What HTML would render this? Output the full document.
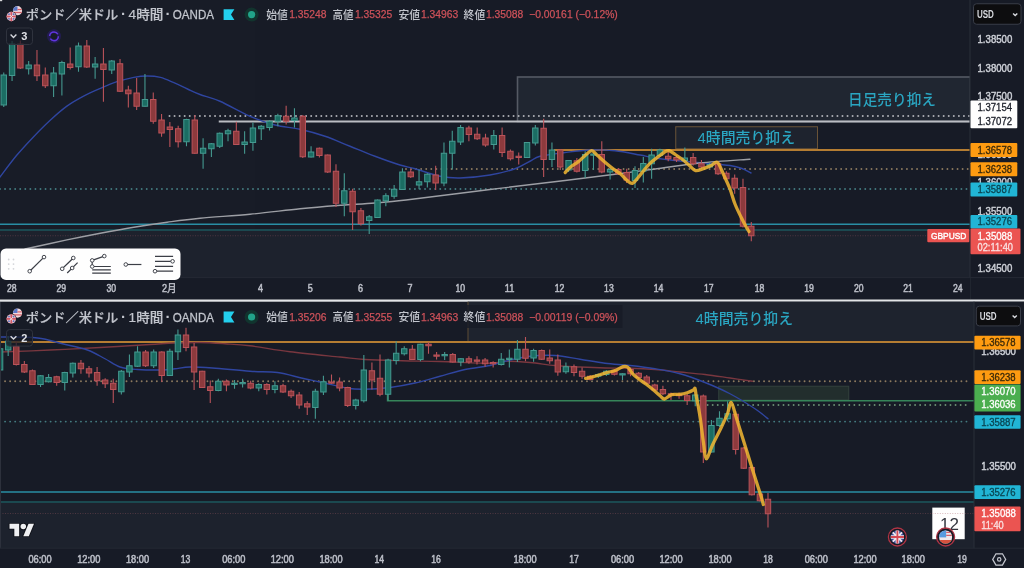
<!DOCTYPE html>
<html lang="ja"><head><meta charset="utf-8"><title>GBPUSD</title>
<style>html,body{margin:0;padding:0;background:#181c27;}svg{display:block;will-change:transform;opacity:0.9999}text{font-family:"Liberation Sans","Noto Sans CJK JP",sans-serif;}</style>
</head><body>
<svg width="1024" height="568" viewBox="0 0 1024 568">
<rect width="1024" height="568" fill="#181c27"/>
<rect x="0" y="0" width="2.2" height="1.2" fill="#d8d9dc"/>
<g id="top">
<rect x="0" y="230" width="970" height="47.5" fill="#1e232e"/>
<rect x="517.5" y="77" width="453" height="44.5" fill="#212732" stroke="#565b65" stroke-width="1.6"/>
<rect x="675.75" y="126.75" width="141.75" height="22" fill="#1f242f" stroke="#6b5438" stroke-width="1"/>
<line x1="169.5" y1="116" x2="970" y2="116" stroke="#c6c7cc" stroke-width="2" stroke-dasharray="0.01 5.05" stroke-linecap="round" opacity="0.85"/>
<line x1="218.75" y1="121.5" x2="970" y2="121.5" stroke="#bcbec4" stroke-width="1.8"/>
<line x1="553.75" y1="150" x2="970" y2="150" stroke="#b67e33" stroke-width="1.8"/>
<line x1="406" y1="169" x2="970" y2="169" stroke="#9a8566" stroke-width="1.9" stroke-dasharray="0.01 5.05" stroke-linecap="round" opacity="0.9"/>
<line x1="0" y1="189" x2="970" y2="189" stroke="#4a878b" stroke-width="1.9" stroke-dasharray="0.01 5.05" stroke-linecap="round" opacity="0.9"/>
<line x1="0" y1="224.25" x2="970" y2="224.25" stroke="#2a8fa6" stroke-width="1.7"/>
<line x1="0" y1="230" x2="970" y2="230" stroke="#1c4a51" stroke-width="2.2"/>
<line x1="0" y1="235.75" x2="970" y2="235.75" stroke="#5e3e48" stroke-width="1" stroke-dasharray="1 1.5" opacity="0.75"/>
<path d="M0,177 C2.78,173.38 11.13,161.98 16.7,155.3 C22.27,148.62 27.82,142.75 33.4,136.9 C38.98,131.05 44.62,125.33 50.2,120.2 C55.78,115.07 61.33,110.12 66.9,106.1 C72.47,102.08 78.03,99.05 83.6,96.1 C89.17,93.15 94.73,90.80 100.3,88.4 C105.87,86.00 111.42,83.53 117,81.7 C122.58,79.87 128.77,78.35 133.8,77.4 C138.83,76.45 142.75,76.00 147.2,76 C151.65,76.00 156.05,76.28 160.5,77.4 C164.95,78.52 169.40,80.77 173.9,82.7 C178.40,84.63 183.15,87.03 187.5,89 C191.85,90.97 194.58,92.46 200,94.5 C205.42,96.54 211.67,97.62 220,101.25 C228.33,104.88 240.83,112.29 250,116.25 C259.17,120.21 266.67,122.83 275,125 C283.33,127.17 291.67,127.38 300,129.25 C308.33,131.12 316.67,133.42 325,136.25 C333.33,139.08 341.67,142.92 350,146.25 C358.33,149.58 366.67,153.12 375,156.25 C383.33,159.38 393.33,162.92 400,165 C406.67,167.08 408.33,166.88 415,168.75 C421.67,170.62 432.50,174.71 440,176.25 C447.50,177.79 451.67,178.21 460,178 C468.33,177.79 480.83,176.54 490,175 C499.17,173.46 508.33,171.04 515,168.75 C521.67,166.46 525.83,163.33 530,161.25 C534.17,159.17 534.17,157.71 540,156.25 C545.83,154.79 556.67,153.54 565,152.5 C573.33,151.46 581.67,150.29 590,150 C598.33,149.71 606.67,149.92 615,150.75 C623.33,151.58 633.33,153.79 640,155 C646.67,156.21 648.33,157.00 655,158 C661.67,159.00 671.67,160.17 680,161 C688.33,161.83 696.67,162.25 705,163 C713.33,163.75 723.83,164.58 730,165.5 C736.17,166.42 738.50,167.25 742,168.5 C745.50,169.75 749.50,172.25 751,173" fill="none" stroke="#3046a0" stroke-width="1.4" stroke-linecap="round" stroke-linejoin="round" opacity="1"/>
<path d="M25,249 C31.98,247.48 54.35,242.53 66.9,239.9 C79.45,237.27 89.15,235.32 100.3,233.2 C111.45,231.08 122.65,229.03 133.8,227.2 C144.95,225.37 156.17,223.70 167.2,222.2 C178.23,220.70 186.20,219.52 200,218.2 C213.80,216.88 233.33,215.82 250,214.25 C266.67,212.68 285.42,210.21 300,208.75 C314.58,207.29 325.00,206.46 337.5,205.5 C350.00,204.54 363.58,203.92 375,203 C386.42,202.08 386.83,202.25 406,200 C425.17,197.75 463.50,192.75 490,189.5 C516.50,186.25 544.17,183.04 565,180.5 C585.83,177.96 600.67,176.08 615,174.25 C629.33,172.42 636.83,171.38 651,169.5 C665.17,167.62 683.50,164.71 700,163 C716.50,161.29 741.67,159.88 750,159.25" fill="none" stroke="#9ea0a6" stroke-width="1.4" stroke-linecap="round" stroke-linejoin="round" opacity="1"/>
<line x1="3.75" y1="72.5" x2="3.75" y2="107.0" stroke="#469a91" stroke-width="1.1"/>
<rect x="1.05" y="75.0" width="5.4" height="30.00" fill="#1c6e64" stroke="#469a91" stroke-width="1"/>
<line x1="12.06" y1="41.0" x2="12.06" y2="81.0" stroke="#469a91" stroke-width="1.1"/>
<rect x="9.36" y="44.0" width="5.4" height="31.50" fill="#1c6e64" stroke="#469a91" stroke-width="1"/>
<line x1="20.36" y1="40.5" x2="20.36" y2="69.0" stroke="#bb545b" stroke-width="1.1"/>
<rect x="17.66" y="44.0" width="5.4" height="24.00" fill="#8e3b3e" stroke="#bb545b" stroke-width="1"/>
<line x1="28.67" y1="61.0" x2="28.67" y2="74.5" stroke="#469a91" stroke-width="1.1"/>
<rect x="25.97" y="65.0" width="5.4" height="3.75" fill="#1c6e64" stroke="#469a91" stroke-width="1"/>
<line x1="36.97" y1="50.0" x2="36.97" y2="81.0" stroke="#bb545b" stroke-width="1.1"/>
<rect x="34.27" y="65.0" width="5.4" height="10.75" fill="#8e3b3e" stroke="#bb545b" stroke-width="1"/>
<line x1="45.28" y1="67.5" x2="45.28" y2="88.0" stroke="#bb545b" stroke-width="1.1"/>
<rect x="42.58" y="75.0" width="5.4" height="10.75" fill="#8e3b3e" stroke="#bb545b" stroke-width="1"/>
<line x1="53.59" y1="67.0" x2="53.59" y2="97.0" stroke="#469a91" stroke-width="1.1"/>
<rect x="50.89" y="73.0" width="5.4" height="12.75" fill="#1c6e64" stroke="#469a91" stroke-width="1"/>
<line x1="61.89" y1="60.75" x2="61.89" y2="95.5" stroke="#469a91" stroke-width="1.1"/>
<rect x="59.19" y="62.5" width="5.4" height="11.50" fill="#1c6e64" stroke="#469a91" stroke-width="1"/>
<line x1="70.20" y1="47.5" x2="70.20" y2="69.5" stroke="#bb545b" stroke-width="1.1"/>
<rect x="67.50" y="64.0" width="5.4" height="3.50" fill="#8e3b3e" stroke="#bb545b" stroke-width="1"/>
<line x1="78.50" y1="42.5" x2="78.50" y2="71.75" stroke="#469a91" stroke-width="1.1"/>
<rect x="75.80" y="46.0" width="5.4" height="20.75" fill="#1c6e64" stroke="#469a91" stroke-width="1"/>
<line x1="86.81" y1="40.0" x2="86.81" y2="68.0" stroke="#bb545b" stroke-width="1.1"/>
<rect x="84.11" y="46.0" width="5.4" height="21.00" fill="#8e3b3e" stroke="#bb545b" stroke-width="1"/>
<line x1="95.12" y1="57.0" x2="95.12" y2="78.75" stroke="#469a91" stroke-width="1.1"/>
<rect x="92.42" y="64.0" width="5.4" height="3.00" fill="#1c6e64" stroke="#469a91" stroke-width="1"/>
<line x1="103.42" y1="48.0" x2="103.42" y2="101.75" stroke="#bb545b" stroke-width="1.1"/>
<rect x="100.72" y="64.0" width="5.4" height="5.50" fill="#8e3b3e" stroke="#bb545b" stroke-width="1"/>
<line x1="111.73" y1="60.0" x2="111.73" y2="74.0" stroke="#469a91" stroke-width="1.1"/>
<rect x="109.03" y="61.0" width="5.4" height="9.00" fill="#1c6e64" stroke="#469a91" stroke-width="1"/>
<line x1="120.03" y1="59.0" x2="120.03" y2="92.0" stroke="#bb545b" stroke-width="1.1"/>
<rect x="117.33" y="63.75" width="5.4" height="27.50" fill="#8e3b3e" stroke="#bb545b" stroke-width="1"/>
<line x1="128.34" y1="85.75" x2="128.34" y2="107.5" stroke="#bb545b" stroke-width="1.1"/>
<rect x="125.64" y="90.0" width="5.4" height="3.75" fill="#8e3b3e" stroke="#bb545b" stroke-width="1"/>
<line x1="136.65" y1="78.0" x2="136.65" y2="110.0" stroke="#bb545b" stroke-width="1.1"/>
<rect x="133.95" y="93.0" width="5.4" height="13.25" fill="#8e3b3e" stroke="#bb545b" stroke-width="1"/>
<line x1="144.95" y1="74.0" x2="144.95" y2="106.5" stroke="#469a91" stroke-width="1.1"/>
<rect x="142.25" y="99.5" width="5.4" height="6.75" fill="#1c6e64" stroke="#469a91" stroke-width="1"/>
<line x1="153.26" y1="92.5" x2="153.26" y2="123.75" stroke="#bb545b" stroke-width="1.1"/>
<rect x="150.56" y="99.5" width="5.4" height="21.75" fill="#8e3b3e" stroke="#bb545b" stroke-width="1"/>
<line x1="161.56" y1="114.0" x2="161.56" y2="136.75" stroke="#bb545b" stroke-width="1.1"/>
<rect x="158.86" y="120.0" width="5.4" height="13.00" fill="#8e3b3e" stroke="#bb545b" stroke-width="1"/>
<line x1="169.87" y1="122.0" x2="169.87" y2="147.0" stroke="#bb545b" stroke-width="1.1"/>
<rect x="167.17" y="127.0" width="5.4" height="2.50" fill="#8e3b3e" stroke="#bb545b" stroke-width="1"/>
<line x1="178.18" y1="125.75" x2="178.18" y2="147.5" stroke="#bb545b" stroke-width="1.1"/>
<rect x="175.48" y="128.75" width="5.4" height="13.00" fill="#8e3b3e" stroke="#bb545b" stroke-width="1"/>
<line x1="186.48" y1="118.75" x2="186.48" y2="146.25" stroke="#469a91" stroke-width="1.1"/>
<rect x="183.78" y="119.5" width="5.4" height="22.25" fill="#1c6e64" stroke="#469a91" stroke-width="1"/>
<line x1="194.79" y1="115.0" x2="194.79" y2="153.75" stroke="#bb545b" stroke-width="1.1"/>
<rect x="192.09" y="120.0" width="5.4" height="33.25" fill="#8e3b3e" stroke="#bb545b" stroke-width="1"/>
<line x1="203.09" y1="138.25" x2="203.09" y2="168.75" stroke="#469a91" stroke-width="1.1"/>
<rect x="200.39" y="148.25" width="5.4" height="5.00" fill="#1c6e64" stroke="#469a91" stroke-width="1"/>
<line x1="211.40" y1="143.0" x2="211.40" y2="157.0" stroke="#469a91" stroke-width="1.1"/>
<rect x="208.70" y="143.75" width="5.4" height="5.00" fill="#1c6e64" stroke="#469a91" stroke-width="1"/>
<line x1="219.71" y1="132.5" x2="219.71" y2="148.0" stroke="#469a91" stroke-width="1.1"/>
<rect x="217.01" y="133.25" width="5.4" height="13.00" fill="#1c6e64" stroke="#469a91" stroke-width="1"/>
<line x1="228.01" y1="128.75" x2="228.01" y2="141.25" stroke="#469a91" stroke-width="1.1"/>
<rect x="225.31" y="130.75" width="5.4" height="3.00" fill="#1c6e64" stroke="#469a91" stroke-width="1"/>
<line x1="236.32" y1="121.75" x2="236.32" y2="145.0" stroke="#bb545b" stroke-width="1.1"/>
<rect x="233.62" y="131.25" width="5.4" height="13.25" fill="#8e3b3e" stroke="#bb545b" stroke-width="1"/>
<line x1="244.62" y1="131.25" x2="244.62" y2="153.75" stroke="#469a91" stroke-width="1.1"/>
<rect x="241.92" y="142.0" width="5.4" height="2.50" fill="#1c6e64" stroke="#469a91" stroke-width="1"/>
<line x1="252.93" y1="122.5" x2="252.93" y2="150.75" stroke="#469a91" stroke-width="1.1"/>
<rect x="250.23" y="128.0" width="5.4" height="14.50" fill="#1c6e64" stroke="#469a91" stroke-width="1"/>
<line x1="261.24" y1="125.0" x2="261.24" y2="140.0" stroke="#469a91" stroke-width="1.1"/>
<rect x="258.54" y="126.25" width="5.4" height="2.50" fill="#1c6e64" stroke="#469a91" stroke-width="1"/>
<line x1="269.54" y1="120.0" x2="269.54" y2="130.5" stroke="#469a91" stroke-width="1.1"/>
<rect x="266.84" y="121.25" width="5.4" height="6.25" fill="#1c6e64" stroke="#469a91" stroke-width="1"/>
<line x1="277.85" y1="113.75" x2="277.85" y2="126.25" stroke="#469a91" stroke-width="1.1"/>
<rect x="275.15" y="115.75" width="5.4" height="5.50" fill="#1c6e64" stroke="#469a91" stroke-width="1"/>
<line x1="286.15" y1="105.75" x2="286.15" y2="124.5" stroke="#bb545b" stroke-width="1.1"/>
<rect x="283.45" y="116.25" width="5.4" height="5.00" fill="#8e3b3e" stroke="#bb545b" stroke-width="1"/>
<line x1="294.46" y1="108.25" x2="294.46" y2="127.5" stroke="#469a91" stroke-width="1.1"/>
<rect x="291.76" y="118.0" width="5.4" height="2.50" fill="#1c6e64" stroke="#469a91" stroke-width="1"/>
<line x1="302.77" y1="115.0" x2="302.77" y2="158.0" stroke="#bb545b" stroke-width="1.1"/>
<rect x="300.07" y="116.25" width="5.4" height="40.50" fill="#8e3b3e" stroke="#bb545b" stroke-width="1"/>
<line x1="311.07" y1="146.25" x2="311.07" y2="157.5" stroke="#469a91" stroke-width="1.1"/>
<rect x="308.37" y="152.0" width="5.4" height="5.00" fill="#1c6e64" stroke="#469a91" stroke-width="1"/>
<line x1="319.38" y1="147.5" x2="319.38" y2="157.5" stroke="#bb545b" stroke-width="1.1"/>
<rect x="316.68" y="148.25" width="5.4" height="7.25" fill="#8e3b3e" stroke="#bb545b" stroke-width="1"/>
<line x1="327.68" y1="154.5" x2="327.68" y2="173.0" stroke="#bb545b" stroke-width="1.1"/>
<rect x="324.98" y="155.0" width="5.4" height="17.00" fill="#8e3b3e" stroke="#bb545b" stroke-width="1"/>
<line x1="335.99" y1="164.25" x2="335.99" y2="207.0" stroke="#bb545b" stroke-width="1.1"/>
<rect x="333.29" y="171.25" width="5.4" height="32.00" fill="#8e3b3e" stroke="#bb545b" stroke-width="1"/>
<line x1="344.30" y1="173.25" x2="344.30" y2="216.25" stroke="#469a91" stroke-width="1.1"/>
<rect x="341.60" y="190.75" width="5.4" height="12.50" fill="#1c6e64" stroke="#469a91" stroke-width="1"/>
<line x1="352.60" y1="188.75" x2="352.60" y2="230.0" stroke="#bb545b" stroke-width="1.1"/>
<rect x="349.90" y="191.25" width="5.4" height="20.50" fill="#8e3b3e" stroke="#bb545b" stroke-width="1"/>
<line x1="360.91" y1="208.0" x2="360.91" y2="225.5" stroke="#bb545b" stroke-width="1.1"/>
<rect x="358.21" y="210.75" width="5.4" height="13.00" fill="#8e3b3e" stroke="#bb545b" stroke-width="1"/>
<line x1="369.21" y1="215.0" x2="369.21" y2="234.0" stroke="#469a91" stroke-width="1.1"/>
<rect x="366.51" y="216.75" width="5.4" height="3.75" fill="#1c6e64" stroke="#469a91" stroke-width="1"/>
<line x1="377.52" y1="199.5" x2="377.52" y2="218.0" stroke="#469a91" stroke-width="1.1"/>
<rect x="374.82" y="200.0" width="5.4" height="17.50" fill="#1c6e64" stroke="#469a91" stroke-width="1"/>
<line x1="385.83" y1="193.25" x2="385.83" y2="206.25" stroke="#469a91" stroke-width="1.1"/>
<rect x="383.13" y="195.75" width="5.4" height="5.00" fill="#1c6e64" stroke="#469a91" stroke-width="1"/>
<line x1="394.13" y1="185.0" x2="394.13" y2="198.75" stroke="#469a91" stroke-width="1.1"/>
<rect x="391.43" y="189.25" width="5.4" height="7.00" fill="#1c6e64" stroke="#469a91" stroke-width="1"/>
<line x1="402.44" y1="168.25" x2="402.44" y2="190.0" stroke="#469a91" stroke-width="1.1"/>
<rect x="399.74" y="172.0" width="5.4" height="17.50" fill="#1c6e64" stroke="#469a91" stroke-width="1"/>
<line x1="410.74" y1="168.75" x2="410.74" y2="178.0" stroke="#bb545b" stroke-width="1.1"/>
<rect x="408.04" y="172.0" width="5.4" height="4.75" fill="#8e3b3e" stroke="#bb545b" stroke-width="1"/>
<line x1="419.05" y1="169.5" x2="419.05" y2="189.25" stroke="#469a91" stroke-width="1.1"/>
<rect x="416.35" y="181.75" width="5.4" height="3.25" fill="#1c6e64" stroke="#469a91" stroke-width="1"/>
<line x1="427.36" y1="173.25" x2="427.36" y2="187.5" stroke="#469a91" stroke-width="1.1"/>
<rect x="424.66" y="174.25" width="5.4" height="7.50" fill="#1c6e64" stroke="#469a91" stroke-width="1"/>
<line x1="435.66" y1="165.75" x2="435.66" y2="190.0" stroke="#bb545b" stroke-width="1.1"/>
<rect x="432.96" y="175.0" width="5.4" height="8.00" fill="#8e3b3e" stroke="#bb545b" stroke-width="1"/>
<line x1="443.97" y1="142.5" x2="443.97" y2="186.25" stroke="#469a91" stroke-width="1.1"/>
<rect x="441.27" y="153.25" width="5.4" height="29.75" fill="#1c6e64" stroke="#469a91" stroke-width="1"/>
<line x1="452.27" y1="130.75" x2="452.27" y2="169.5" stroke="#469a91" stroke-width="1.1"/>
<rect x="449.57" y="141.25" width="5.4" height="12.00" fill="#1c6e64" stroke="#469a91" stroke-width="1"/>
<line x1="460.58" y1="125.0" x2="460.58" y2="145.0" stroke="#469a91" stroke-width="1.1"/>
<rect x="457.88" y="127.5" width="5.4" height="14.50" fill="#1c6e64" stroke="#469a91" stroke-width="1"/>
<line x1="468.89" y1="125.75" x2="468.89" y2="141.25" stroke="#bb545b" stroke-width="1.1"/>
<rect x="466.19" y="128.0" width="5.4" height="6.50" fill="#8e3b3e" stroke="#bb545b" stroke-width="1"/>
<line x1="477.19" y1="127.5" x2="477.19" y2="140.0" stroke="#bb545b" stroke-width="1.1"/>
<rect x="474.49" y="134.25" width="5.4" height="4.50" fill="#8e3b3e" stroke="#bb545b" stroke-width="1"/>
<line x1="485.50" y1="133.75" x2="485.50" y2="146.75" stroke="#bb545b" stroke-width="1.1"/>
<rect x="482.80" y="138.0" width="5.4" height="7.00" fill="#8e3b3e" stroke="#bb545b" stroke-width="1"/>
<line x1="493.80" y1="130.0" x2="493.80" y2="149.5" stroke="#469a91" stroke-width="1.1"/>
<rect x="491.10" y="135.5" width="5.4" height="9.00" fill="#1c6e64" stroke="#469a91" stroke-width="1"/>
<line x1="502.11" y1="127.5" x2="502.11" y2="157.0" stroke="#bb545b" stroke-width="1.1"/>
<rect x="499.41" y="135.5" width="5.4" height="17.00" fill="#8e3b3e" stroke="#bb545b" stroke-width="1"/>
<line x1="510.42" y1="149.5" x2="510.42" y2="160.5" stroke="#bb545b" stroke-width="1.1"/>
<rect x="507.72" y="151.25" width="5.4" height="7.50" fill="#8e3b3e" stroke="#bb545b" stroke-width="1"/>
<line x1="518.72" y1="152.5" x2="518.72" y2="164.5" stroke="#bb545b" stroke-width="1.1"/>
<rect x="516.02" y="156.25" width="5.4" height="1.25" fill="#8e3b3e" stroke="#bb545b" stroke-width="1"/>
<line x1="527.03" y1="142.0" x2="527.03" y2="158.0" stroke="#469a91" stroke-width="1.1"/>
<rect x="524.33" y="142.5" width="5.4" height="15.00" fill="#1c6e64" stroke="#469a91" stroke-width="1"/>
<line x1="535.33" y1="125.0" x2="535.33" y2="145.5" stroke="#469a91" stroke-width="1.1"/>
<rect x="532.63" y="128.0" width="5.4" height="15.00" fill="#1c6e64" stroke="#469a91" stroke-width="1"/>
<line x1="543.64" y1="118.75" x2="543.64" y2="177.0" stroke="#bb545b" stroke-width="1.1"/>
<rect x="540.94" y="128.25" width="5.4" height="31.25" fill="#8e3b3e" stroke="#bb545b" stroke-width="1"/>
<line x1="551.95" y1="142.5" x2="551.95" y2="167.0" stroke="#469a91" stroke-width="1.1"/>
<rect x="549.25" y="150.0" width="5.4" height="9.50" fill="#1c6e64" stroke="#469a91" stroke-width="1"/>
<line x1="560.25" y1="149.25" x2="560.25" y2="170.0" stroke="#bb545b" stroke-width="1.1"/>
<rect x="557.55" y="150.0" width="5.4" height="17.00" fill="#8e3b3e" stroke="#bb545b" stroke-width="1"/>
<line x1="568.56" y1="160.0" x2="568.56" y2="172.0" stroke="#469a91" stroke-width="1.1"/>
<rect x="565.86" y="160.5" width="5.4" height="9.50" fill="#1c6e64" stroke="#469a91" stroke-width="1"/>
<line x1="576.86" y1="158.0" x2="576.86" y2="172.5" stroke="#bb545b" stroke-width="1.1"/>
<rect x="574.16" y="160.75" width="5.4" height="10.50" fill="#8e3b3e" stroke="#bb545b" stroke-width="1"/>
<line x1="585.17" y1="151.25" x2="585.17" y2="178.0" stroke="#469a91" stroke-width="1.1"/>
<rect x="582.47" y="154.5" width="5.4" height="16.00" fill="#1c6e64" stroke="#469a91" stroke-width="1"/>
<line x1="593.48" y1="152.5" x2="593.48" y2="170.0" stroke="#469a91" stroke-width="1.1"/>
<rect x="590.78" y="154.0" width="5.4" height="1.20" fill="#1c6e64" stroke="#469a91" stroke-width="1"/>
<line x1="601.78" y1="141.25" x2="601.78" y2="173.25" stroke="#bb545b" stroke-width="1.1"/>
<rect x="599.08" y="154.5" width="5.4" height="17.50" fill="#8e3b3e" stroke="#bb545b" stroke-width="1"/>
<line x1="610.09" y1="167.5" x2="610.09" y2="179.5" stroke="#469a91" stroke-width="1.1"/>
<rect x="607.39" y="169.5" width="5.4" height="2.50" fill="#1c6e64" stroke="#469a91" stroke-width="1"/>
<line x1="618.39" y1="168.0" x2="618.39" y2="175.0" stroke="#bb545b" stroke-width="1.1"/>
<rect x="615.69" y="169.5" width="5.4" height="4.25" fill="#8e3b3e" stroke="#bb545b" stroke-width="1"/>
<line x1="626.70" y1="168.75" x2="626.70" y2="183.0" stroke="#bb545b" stroke-width="1.1"/>
<rect x="624.00" y="172.5" width="5.4" height="7.50" fill="#8e3b3e" stroke="#bb545b" stroke-width="1"/>
<line x1="635.01" y1="166.25" x2="635.01" y2="188.0" stroke="#469a91" stroke-width="1.1"/>
<rect x="632.31" y="170.5" width="5.4" height="10.00" fill="#1c6e64" stroke="#469a91" stroke-width="1"/>
<line x1="643.31" y1="157.0" x2="643.31" y2="182.5" stroke="#469a91" stroke-width="1.1"/>
<rect x="640.61" y="163.5" width="5.4" height="7.75" fill="#1c6e64" stroke="#469a91" stroke-width="1"/>
<line x1="651.62" y1="148.75" x2="651.62" y2="178.75" stroke="#469a91" stroke-width="1.1"/>
<rect x="648.92" y="155.0" width="5.4" height="8.75" fill="#1c6e64" stroke="#469a91" stroke-width="1"/>
<line x1="659.92" y1="148.75" x2="659.92" y2="157.0" stroke="#469a91" stroke-width="1.1"/>
<rect x="657.22" y="150.0" width="5.4" height="5.50" fill="#1c6e64" stroke="#469a91" stroke-width="1"/>
<line x1="668.23" y1="150.0" x2="668.23" y2="161.25" stroke="#bb545b" stroke-width="1.1"/>
<rect x="665.53" y="156.25" width="5.4" height="2.50" fill="#8e3b3e" stroke="#bb545b" stroke-width="1"/>
<line x1="676.54" y1="155.5" x2="676.54" y2="162.0" stroke="#bb545b" stroke-width="1.1"/>
<rect x="673.84" y="157.5" width="5.4" height="2.50" fill="#8e3b3e" stroke="#bb545b" stroke-width="1"/>
<line x1="684.84" y1="147.5" x2="684.84" y2="162.5" stroke="#469a91" stroke-width="1.1"/>
<rect x="682.14" y="158.0" width="5.4" height="2.50" fill="#1c6e64" stroke="#469a91" stroke-width="1"/>
<line x1="693.15" y1="153.0" x2="693.15" y2="165.5" stroke="#bb545b" stroke-width="1.1"/>
<rect x="690.45" y="157.5" width="5.4" height="6.25" fill="#8e3b3e" stroke="#bb545b" stroke-width="1"/>
<line x1="701.45" y1="160.0" x2="701.45" y2="168.75" stroke="#bb545b" stroke-width="1.1"/>
<rect x="698.75" y="163.75" width="5.4" height="3.25" fill="#8e3b3e" stroke="#bb545b" stroke-width="1"/>
<line x1="709.76" y1="162.5" x2="709.76" y2="168.0" stroke="#469a91" stroke-width="1.1"/>
<rect x="707.06" y="164.5" width="5.4" height="2.50" fill="#1c6e64" stroke="#469a91" stroke-width="1"/>
<line x1="718.07" y1="161.25" x2="718.07" y2="175.0" stroke="#bb545b" stroke-width="1.1"/>
<rect x="715.37" y="163.75" width="5.4" height="10.00" fill="#8e3b3e" stroke="#bb545b" stroke-width="1"/>
<line x1="726.37" y1="171.25" x2="726.37" y2="180.0" stroke="#bb545b" stroke-width="1.1"/>
<rect x="723.67" y="173.25" width="5.4" height="5.50" fill="#8e3b3e" stroke="#bb545b" stroke-width="1"/>
<line x1="734.68" y1="174.5" x2="734.68" y2="193.75" stroke="#bb545b" stroke-width="1.1"/>
<rect x="731.98" y="178.25" width="5.4" height="9.75" fill="#8e3b3e" stroke="#bb545b" stroke-width="1"/>
<line x1="742.98" y1="178.75" x2="742.98" y2="227.5" stroke="#bb545b" stroke-width="1.1"/>
<rect x="740.28" y="187.5" width="5.4" height="38.75" fill="#8e3b3e" stroke="#bb545b" stroke-width="1"/>
<line x1="751.29" y1="222.0" x2="751.29" y2="241.25" stroke="#bb545b" stroke-width="1.1"/>
<rect x="748.59" y="226.25" width="5.4" height="9.50" fill="#8e3b3e" stroke="#bb545b" stroke-width="1"/>
<path d="M565.2,172.5 C566.10,171.58 568.40,168.82 570.6,167 C572.80,165.18 575.79,163.68 578.4,161.6 C581.01,159.52 584.03,156.33 586.25,154.5 C588.47,152.67 589.88,150.47 591.7,150.6 C593.53,150.73 594.98,153.35 597.2,155.3 C599.42,157.25 602.40,160.08 605,162.3 C607.60,164.52 610.20,166.65 612.8,168.6 C615.40,170.55 618.25,172.05 620.6,174 C622.95,175.95 624.95,178.73 626.9,180.3 C628.85,181.87 630.48,183.78 632.3,183.4 C634.12,183.02 635.85,180.20 637.8,178 C639.75,175.80 641.92,172.68 644,170.2 C646.08,167.72 647.95,165.32 650.3,163.1 C652.65,160.88 655.75,158.72 658.1,156.9 C660.45,155.08 662.58,153.25 664.4,152.2 C666.22,151.15 667.18,150.22 669,150.6 C670.82,150.98 672.95,152.93 675.3,154.5 C677.65,156.07 680.75,158.17 683.1,160 C685.45,161.83 687.32,163.73 689.4,165.5 C691.48,167.27 693.27,170.08 695.6,170.6 C697.93,171.12 700.79,169.45 703.4,168.6 C706.01,167.75 708.90,166.52 711.25,165.5 C713.60,164.48 715.42,160.92 717.5,162.5 C719.58,164.08 721.67,170.58 723.75,175 C725.83,179.42 728.12,184.17 730,189 C731.88,193.83 733.12,199.25 735,204 C736.88,208.75 739.33,213.58 741.25,217.5 C743.17,221.42 745.21,225.17 746.5,227.5 C747.79,229.83 748.58,230.83 749,231.5" fill="none" stroke="#f2b733" stroke-width="3.3" stroke-linecap="round" stroke-linejoin="round" opacity="0.86"/>
<text x="848" y="104.5" font-size="15" fill="#2ba7c3" font-weight="500" text-anchor="start" textLength="88" lengthAdjust="spacingAndGlyphs">日足売り抑え</text>
<text x="697.5" y="143" font-size="15" fill="#2ba7c3" font-weight="500" text-anchor="start" textLength="97.5" lengthAdjust="spacingAndGlyphs">4時間売り抑え</text>
</g>
<g><circle cx="17.5" cy="10.7" r="4.6" fill="#f1d9dc"/><path d="M13.0,10.7 a4.5,4.5 0 0 1 4.5,-4.5 v4.5z" fill="#5a78c8"/><rect x="17.5" y="8.9" width="4.2" height="1.2" fill="#d8606a"/><rect x="13.5" y="11.9" width="8.2" height="1.2" fill="#d8606a"/></g>
<g><circle cx="11.3" cy="16.5" r="5.3" fill="#181c27"/><circle cx="11.3" cy="16.5" r="4.7" fill="#e9b9c2"/><path d="M6.6000000000000005,16.5 h9.4 M11.3,11.8 v9.4" stroke="#d25a68" stroke-width="1.6"/><path d="M8.3,13.5 l6,6 M14.3,13.5 l-6,6" stroke="#f4e6ea" stroke-width="1"/><circle cx="9.0" cy="14.2" r="0.9" fill="#5a6fc0"/><circle cx="13.600000000000001" cy="18.8" r="0.9" fill="#5a6fc0"/><circle cx="13.600000000000001" cy="14.2" r="0.9" fill="#5a6fc0"/><circle cx="9.0" cy="18.8" r="0.9" fill="#5a6fc0"/></g>
<text x="25.8" y="19.2" font-size="13" fill="#c3c6ce" font-weight="500" text-anchor="start" textLength="92.5" lengthAdjust="spacingAndGlyphs" stroke="#c3c6ce" stroke-width="0.2">ポンド／米ドル</text>
<text x="123.4" y="19.2" font-size="15" fill="#c3c6ce" font-weight="bold" text-anchor="middle">·</text>
<text x="128.6" y="19.2" font-size="13" fill="#c3c6ce" font-weight="500" text-anchor="start" textLength="34.7" lengthAdjust="spacingAndGlyphs" stroke="#c3c6ce" stroke-width="0.2">4時間</text>
<text x="168.1" y="19.2" font-size="15" fill="#c3c6ce" font-weight="bold" text-anchor="middle">·</text>
<text x="172.8" y="19.2" font-size="13" fill="#c3c6ce" font-weight="500" text-anchor="start" textLength="41.2" lengthAdjust="spacingAndGlyphs" stroke="#c3c6ce" stroke-width="0.3">OANDA</text>
<path d="M223.6,9.2 h10.8 l-3.4,5.4 l3.4,5.4 h-10.8z" fill="#24d0ee"/>
<circle cx="251.6" cy="14.6" r="7" fill="#12352f"/><circle cx="251.6" cy="14.6" r="3.6" fill="#22a48a"/>
<text x="266.2" y="18.6" font-size="11" fill="#c3c6ce" font-weight="500" text-anchor="start" textLength="21.5" lengthAdjust="spacingAndGlyphs">始値</text>
<text x="289.2" y="18.4" font-size="10.8" fill="#cf535b" font-weight="normal" text-anchor="start" textLength="37.3" lengthAdjust="spacingAndGlyphs" stroke="#cf535b" stroke-width="0.25">1.35248</text>
<text x="332.6" y="18.6" font-size="11" fill="#c3c6ce" font-weight="500" text-anchor="start" textLength="21" lengthAdjust="spacingAndGlyphs">高値</text>
<text x="355" y="18.4" font-size="10.8" fill="#cf535b" font-weight="normal" text-anchor="start" textLength="37.3" lengthAdjust="spacingAndGlyphs" stroke="#cf535b" stroke-width="0.25">1.35325</text>
<text x="398.4" y="18.6" font-size="11" fill="#c3c6ce" font-weight="500" text-anchor="start" textLength="21.6" lengthAdjust="spacingAndGlyphs">安値</text>
<text x="421" y="18.4" font-size="10.8" fill="#cf535b" font-weight="normal" text-anchor="start" textLength="37.3" lengthAdjust="spacingAndGlyphs" stroke="#cf535b" stroke-width="0.25">1.34963</text>
<text x="463.6" y="18.6" font-size="11" fill="#c3c6ce" font-weight="500" text-anchor="start" textLength="21.6" lengthAdjust="spacingAndGlyphs">終値</text>
<text x="486" y="18.4" font-size="10.8" fill="#cf535b" font-weight="normal" text-anchor="start" textLength="37.3" lengthAdjust="spacingAndGlyphs" stroke="#cf535b" stroke-width="0.25">1.35088</text>
<text x="529.2" y="18.4" font-size="10.8" fill="#cf535b" font-weight="normal" text-anchor="start" textLength="88.6" lengthAdjust="spacingAndGlyphs" stroke="#cf535b" stroke-width="0.25">−0.00161 (−0.12%)</text>
<rect x="6.5" y="28" width="26" height="16.5" rx="3" fill="#181c27" fill-opacity="0.72" stroke="#30343f" stroke-width="1"/>
<path d="M10.6,34.6 l2.9,2.9 l2.9,-2.9" fill="none" stroke="#d6d8de" stroke-width="1.4"/>
<text x="21.3" y="40.2" font-size="11" fill="#e1e3e8" font-weight="bold" text-anchor="start">3</text>
<circle cx="54" cy="36.3" r="5" fill="none" stroke="#3a1f9e" stroke-width="4" opacity="0.35"/>
<circle cx="54" cy="36.3" r="4.4" fill="none" stroke="#6237e0" stroke-width="1.5" stroke-dasharray="11 2.8"/>
<rect x="970" y="0" width="54" height="299" fill="#181c27"/>
<line x1="970" y1="0" x2="970" y2="299" stroke="#2b303b" stroke-width="1"/>
<rect x="973.5" y="3.75" width="47.5" height="20.5" rx="3" fill="#0e0e10" stroke="#3a3e49" stroke-width="1"/>
<text x="976.9" y="17.8" font-size="10.5" fill="#d9dbe0" font-weight="bold" text-anchor="start" textLength="17" lengthAdjust="spacingAndGlyphs">USD</text>
<path d="M1013.1,13.4 l2.1,2.1 l2.1,-2.1" fill="none" stroke="#d9dbe0" stroke-width="1.4"/>
<text x="977.5" y="43.05" font-size="10.5" fill="#cdd0d7" font-weight="normal" text-anchor="start" textLength="34.8" lengthAdjust="spacingAndGlyphs" stroke="#cdd0d7" stroke-width="0.45">1.38500</text>
<text x="977.5" y="71.8" font-size="10.5" fill="#cdd0d7" font-weight="normal" text-anchor="start" textLength="34.8" lengthAdjust="spacingAndGlyphs" stroke="#cdd0d7" stroke-width="0.45">1.38000</text>
<text x="977.5" y="100.2" font-size="10.5" fill="#cdd0d7" font-weight="normal" text-anchor="start" textLength="34.8" lengthAdjust="spacingAndGlyphs" stroke="#cdd0d7" stroke-width="0.45">1.37500</text>
<text x="977.5" y="157.60000000000002" font-size="10.5" fill="#cdd0d7" font-weight="normal" text-anchor="start" textLength="34.8" lengthAdjust="spacingAndGlyphs" stroke="#cdd0d7" stroke-width="0.45">1.36500</text>
<text x="977.5" y="186.0" font-size="10.5" fill="#cdd0d7" font-weight="normal" text-anchor="start" textLength="34.8" lengthAdjust="spacingAndGlyphs" stroke="#cdd0d7" stroke-width="0.45">1.36000</text>
<text x="977.5" y="215.0" font-size="10.5" fill="#cdd0d7" font-weight="normal" text-anchor="start" textLength="34.8" lengthAdjust="spacingAndGlyphs" stroke="#cdd0d7" stroke-width="0.45">1.35500</text>
<text x="977.5" y="272.40000000000003" font-size="10.5" fill="#cdd0d7" font-weight="normal" text-anchor="start" textLength="34.8" lengthAdjust="spacingAndGlyphs" stroke="#cdd0d7" stroke-width="0.45">1.34500</text>
<rect x="970.5" y="100.5" width="46.8" height="27.8" fill="#ffffff" rx="1"/>
<text x="977.5" y="111.05" font-size="10" fill="#20242e" font-weight="normal" text-anchor="start" textLength="34.5" lengthAdjust="spacingAndGlyphs" stroke="#20242e" stroke-width="0.3">1.37154</text>
<text x="977.5" y="124.94999999999999" font-size="10" fill="#20242e" font-weight="normal" text-anchor="start" textLength="34.5" lengthAdjust="spacingAndGlyphs" stroke="#20242e" stroke-width="0.3">1.37072</text>
<rect x="970.5" y="143" width="46.8" height="14" fill="#ff9c12" rx="1"/>
<text x="977.5" y="153.6" font-size="10" fill="#3b2a0a" font-weight="normal" text-anchor="start" textLength="34.5" lengthAdjust="spacingAndGlyphs" stroke="#3b2a0a" stroke-width="0.3">1.36578</text>
<rect x="970.5" y="162.3" width="46.8" height="14" fill="#ff9c12" rx="1"/>
<text x="977.5" y="172.9" font-size="10" fill="#3b2a0a" font-weight="normal" text-anchor="start" textLength="34.5" lengthAdjust="spacingAndGlyphs" stroke="#3b2a0a" stroke-width="0.3">1.36238</text>
<rect x="970.5" y="182.4" width="46.8" height="14" fill="#22b6d6" rx="1"/>
<text x="977.5" y="193.0" font-size="10" fill="#0b4653" font-weight="normal" text-anchor="start" textLength="34.5" lengthAdjust="spacingAndGlyphs" stroke="#0b4653" stroke-width="0.3">1.35887</text>
<rect x="970.5" y="215" width="46.8" height="13.4" fill="#22b6d6" rx="1"/>
<text x="977.5" y="225.29999999999998" font-size="10" fill="#0b4653" font-weight="normal" text-anchor="start" textLength="34.5" lengthAdjust="spacingAndGlyphs" stroke="#0b4653" stroke-width="0.3">1.35276</text>
<rect x="970.5" y="228.6" width="50" height="25.6" fill="#ec5552" rx="1"/>
<text x="977.5" y="239.8" font-size="10.5" fill="#ffffff" font-weight="normal" text-anchor="start" textLength="34.8" lengthAdjust="spacingAndGlyphs" stroke="#ffffff" stroke-width="0.3">1.35088</text>
<text x="977.5" y="251" font-size="10.5" fill="#fbe3e3" font-weight="normal" text-anchor="start" textLength="35.5" lengthAdjust="spacingAndGlyphs" stroke="#fbe3e3" stroke-width="0.3">02:11:40</text>
<rect x="927.3" y="229" width="42" height="13.3" fill="#ec5552" rx="1"/>
<text x="931" y="239.4" font-size="9.8" fill="#ffffff" font-weight="normal" text-anchor="start" textLength="35.4" lengthAdjust="spacingAndGlyphs" stroke="#ffffff" stroke-width="0.45">GBPUSD</text>
<rect x="0" y="277.5" width="970" height="22" fill="#181c27"/>
<line x1="0" y1="277.6" x2="1024" y2="277.6" stroke="#262b36" stroke-width="1"/>
<text x="11.7" y="292" font-size="10.5" fill="#bcbfc8" font-weight="normal" text-anchor="middle" textLength="9.6" lengthAdjust="spacingAndGlyphs" stroke="#bcbfc8" stroke-width="0.55">28</text>
<text x="61.2" y="292" font-size="10.5" fill="#bcbfc8" font-weight="normal" text-anchor="middle" textLength="9.6" lengthAdjust="spacingAndGlyphs" stroke="#bcbfc8" stroke-width="0.55">29</text>
<text x="111.3" y="292" font-size="10.5" fill="#bcbfc8" font-weight="normal" text-anchor="middle" textLength="9.6" lengthAdjust="spacingAndGlyphs" stroke="#bcbfc8" stroke-width="0.55">30</text>
<text x="169.2" y="292" font-size="10.5" fill="#bcbfc8" font-weight="normal" text-anchor="middle" textLength="14.2" lengthAdjust="spacingAndGlyphs" stroke="#bcbfc8" stroke-width="0.55">2月</text>
<text x="260.4" y="292" font-size="10.5" fill="#bcbfc8" font-weight="normal" text-anchor="middle" textLength="5" lengthAdjust="spacingAndGlyphs" stroke="#bcbfc8" stroke-width="0.55">4</text>
<text x="310.2" y="292" font-size="10.5" fill="#bcbfc8" font-weight="normal" text-anchor="middle" textLength="5" lengthAdjust="spacingAndGlyphs" stroke="#bcbfc8" stroke-width="0.55">5</text>
<text x="360.5" y="292" font-size="10.5" fill="#bcbfc8" font-weight="normal" text-anchor="middle" textLength="5" lengthAdjust="spacingAndGlyphs" stroke="#bcbfc8" stroke-width="0.55">6</text>
<text x="410" y="292" font-size="10.5" fill="#bcbfc8" font-weight="normal" text-anchor="middle" textLength="5" lengthAdjust="spacingAndGlyphs" stroke="#bcbfc8" stroke-width="0.55">7</text>
<text x="460.2" y="292" font-size="10.5" fill="#bcbfc8" font-weight="normal" text-anchor="middle" textLength="9.6" lengthAdjust="spacingAndGlyphs" stroke="#bcbfc8" stroke-width="0.55">10</text>
<text x="509.6" y="292" font-size="10.5" fill="#bcbfc8" font-weight="normal" text-anchor="middle" textLength="9.6" lengthAdjust="spacingAndGlyphs" stroke="#bcbfc8" stroke-width="0.55">11</text>
<text x="559.5" y="292" font-size="10.5" fill="#bcbfc8" font-weight="normal" text-anchor="middle" textLength="9.6" lengthAdjust="spacingAndGlyphs" stroke="#bcbfc8" stroke-width="0.55">12</text>
<text x="608.9" y="292" font-size="10.5" fill="#bcbfc8" font-weight="normal" text-anchor="middle" textLength="9.6" lengthAdjust="spacingAndGlyphs" stroke="#bcbfc8" stroke-width="0.55">13</text>
<text x="658.5" y="292" font-size="10.5" fill="#bcbfc8" font-weight="normal" text-anchor="middle" textLength="9.6" lengthAdjust="spacingAndGlyphs" stroke="#bcbfc8" stroke-width="0.55">14</text>
<text x="708.8" y="292" font-size="10.5" fill="#bcbfc8" font-weight="normal" text-anchor="middle" textLength="9.6" lengthAdjust="spacingAndGlyphs" stroke="#bcbfc8" stroke-width="0.55">17</text>
<text x="759.5" y="292" font-size="10.5" fill="#bcbfc8" font-weight="normal" text-anchor="middle" textLength="9.6" lengthAdjust="spacingAndGlyphs" stroke="#bcbfc8" stroke-width="0.55">18</text>
<text x="809" y="292" font-size="10.5" fill="#bcbfc8" font-weight="normal" text-anchor="middle" textLength="9.6" lengthAdjust="spacingAndGlyphs" stroke="#bcbfc8" stroke-width="0.55">19</text>
<text x="858.8" y="292" font-size="10.5" fill="#bcbfc8" font-weight="normal" text-anchor="middle" textLength="9.6" lengthAdjust="spacingAndGlyphs" stroke="#bcbfc8" stroke-width="0.55">20</text>
<text x="908" y="292" font-size="10.5" fill="#bcbfc8" font-weight="normal" text-anchor="middle" textLength="9.6" lengthAdjust="spacingAndGlyphs" stroke="#bcbfc8" stroke-width="0.55">21</text>
<text x="957.8" y="292" font-size="10.5" fill="#bcbfc8" font-weight="normal" text-anchor="middle" textLength="9.6" lengthAdjust="spacingAndGlyphs" stroke="#bcbfc8" stroke-width="0.55">24</text>
<g id="toolbar"><rect x="0.5" y="248.4" width="180" height="31.5" rx="5.5" fill="#ffffff"/>
<circle cx="8.7" cy="259.5" r="0.9" fill="#d4d6da"/>
<circle cx="8.7" cy="264.1" r="0.9" fill="#d4d6da"/>
<circle cx="8.7" cy="268.8" r="0.9" fill="#d4d6da"/>
<circle cx="13.5" cy="259.5" r="0.9" fill="#d4d6da"/>
<circle cx="13.5" cy="264.1" r="0.9" fill="#d4d6da"/>
<circle cx="13.5" cy="268.8" r="0.9" fill="#d4d6da"/>
<path d="M29.7,271.2 L44,257.1" stroke="#3c3f47" stroke-width="1.2" fill="none"/><circle cx="29.7" cy="271.2" r="1.8" fill="#ffffff" stroke="#44474f" stroke-width="1"/><circle cx="44" cy="257.1" r="1.8" fill="#ffffff" stroke="#44474f" stroke-width="1"/>
<path d="M62.2,268.8 L73.3,258 M67.2,273 L77.6,262.6" stroke="#3c3f47" stroke-width="1.2" fill="none"/><circle cx="62.2" cy="268.8" r="1.8" fill="#ffffff" stroke="#44474f" stroke-width="1"/><circle cx="73.3" cy="258" r="1.8" fill="#ffffff" stroke="#44474f" stroke-width="1"/><circle cx="72.2" cy="268" r="1.8" fill="#ffffff" stroke="#44474f" stroke-width="1"/>
<path d="M92.2,260.4 L104.3,256.1 M92.2,260.4 L92.2,266.5 M94,266.5 H110.8 M92.2,269.9 H110.8 M92.2,273.1 H110.8" stroke="#3c3f47" stroke-width="1.2" fill="none"/><circle cx="92.2" cy="260.4" r="1.8" fill="#ffffff" stroke="#44474f" stroke-width="1"/><circle cx="104.3" cy="256.1" r="1.8" fill="#ffffff" stroke="#44474f" stroke-width="1"/><circle cx="92.2" cy="266.5" r="1.8" fill="#ffffff" stroke="#44474f" stroke-width="1"/>
<path d="M125.8,264.5 H141.4" stroke="#3c3f47" stroke-width="1.2" fill="none"/><circle cx="125.8" cy="264.5" r="1.8" fill="#ffffff" stroke="#44474f" stroke-width="1"/>
<path d="M155,256.3 H173.1 M155,261.3 H172 M155,266.3 H173.1 M155,271.2 H173.1" stroke="#3c3f47" stroke-width="1.2" fill="none"/><circle cx="172.6" cy="261.3" r="1.8" fill="#ffffff" stroke="#44474f" stroke-width="1"/><circle cx="155" cy="271.2" r="1.8" fill="#ffffff" stroke="#44474f" stroke-width="1"/>
</g>
<rect x="0" y="299.5" width="1024" height="2.2" fill="#e4e5e8"/>
<g id="bot">
<rect x="0" y="502" width="974" height="46.2" fill="#1e232e"/>
<rect x="468" y="301.7" width="506" height="40.3" fill="#1f242f"/>
<line x1="468" y1="301.7" x2="468" y2="342" stroke="#5f4d36" stroke-width="1"/>
<rect x="718.75" y="386.25" width="130" height="13.75" fill="#232f2e" stroke="#33423e" stroke-width="1"/>
<line x1="0" y1="342" x2="974" y2="342" stroke="#b67e33" stroke-width="1.8"/>
<line x1="0" y1="381.25" x2="970.5" y2="381.25" stroke="#9a8566" stroke-width="1.9" stroke-dasharray="0.01 5.05" stroke-linecap="round" opacity="0.9"/>
<path d="M387.6,394 V400.75 H974" fill="none" stroke="#37865a" stroke-width="1.6"/>
<line x1="697.5" y1="405" x2="970.5" y2="405" stroke="#7fae86" stroke-width="1.9" stroke-dasharray="0.01 5.05" stroke-linecap="round" opacity="0.8"/>
<line x1="0" y1="421.6" x2="970.5" y2="421.6" stroke="#4a878b" stroke-width="1.9" stroke-dasharray="0.01 5.05" stroke-linecap="round" opacity="0.9"/>
<line x1="0" y1="492" x2="974" y2="492" stroke="#2a8fa6" stroke-width="1.7"/>
<line x1="0" y1="502" x2="974" y2="502" stroke="#1c4a51" stroke-width="2.2"/>
<line x1="0" y1="513.5" x2="974" y2="513.5" stroke="#5e3e48" stroke-width="1" stroke-dasharray="1 1.5" opacity="0.75"/>
<path d="M0,352 C8.33,351.67 33.33,350.75 50,350 C66.67,349.25 83.33,348.42 100,347.5 C116.67,346.58 137.50,345.25 150,344.5 C162.50,343.75 166.67,343.33 175,343 C183.33,342.67 191.67,342.38 200,342.5 C208.33,342.62 216.67,343.21 225,343.75 C233.33,344.29 239.17,344.42 250,345.75 C260.83,347.08 275.00,349.88 290,351.75 C305.00,353.62 327.50,355.71 340,357 C352.50,358.29 354.58,358.88 365,359.5 C375.42,360.12 390.00,360.42 402.5,360.75 C415.00,361.08 425.42,361.08 440,361.5 C454.58,361.92 479.17,363.29 490,363.25 C500.83,363.21 498.33,361.38 505,361.25 C511.67,361.12 521.67,361.79 530,362.5 C538.33,363.21 546.67,364.75 555,365.5 C563.33,366.25 571.67,366.58 580,367 C588.33,367.42 596.67,367.79 605,368 C613.33,368.21 621.67,368.00 630,368.25 C638.33,368.50 646.67,368.88 655,369.5 C663.33,370.12 671.67,371.17 680,372 C688.33,372.83 696.67,373.50 705,374.5 C713.33,375.50 722.08,376.88 730,378 C737.92,379.12 748.75,380.71 752.5,381.25" fill="none" stroke="#7a3840" stroke-width="1.3" stroke-linecap="round" stroke-linejoin="round" opacity="1"/>
<path d="M0,337 C6.25,337.17 27.08,336.88 37.5,338 C47.92,339.12 54.17,341.75 62.5,343.75 C70.83,345.75 80.42,347.50 87.5,350 C94.58,352.50 99.58,355.92 105,358.75 C110.42,361.58 114.58,365.21 120,367 C125.42,368.79 130.42,369.00 137.5,369.5 C144.58,370.00 156.25,370.12 162.5,370 C168.75,369.88 170.42,369.25 175,368.75 C179.58,368.25 183.75,367.12 190,367 C196.25,366.88 202.50,367.29 212.5,368 C222.50,368.71 239.17,370.50 250,371.25 C260.83,372.00 268.75,371.33 277.5,372.5 C286.25,373.67 295.00,376.58 302.5,378.25 C310.00,379.92 315.00,380.83 322.5,382.5 C330.00,384.17 340.42,387.12 347.5,388.25 C354.58,389.38 357.92,389.38 365,389.25 C372.08,389.12 381.67,388.54 390,387.5 C398.33,386.46 406.67,384.88 415,383 C423.33,381.12 431.67,378.50 440,376.25 C448.33,374.00 456.67,371.29 465,369.5 C473.33,367.71 483.33,366.88 490,365.5 C496.67,364.12 498.33,362.79 505,361.25 C511.67,359.71 521.67,357.21 530,356.25 C538.33,355.29 546.67,355.00 555,355.5 C563.33,356.00 571.67,357.96 580,359.25 C588.33,360.54 596.67,362.21 605,363.25 C613.33,364.29 621.67,364.58 630,365.5 C638.33,366.42 646.67,367.38 655,368.75 C663.33,370.12 671.67,371.46 680,373.75 C688.33,376.04 696.67,379.17 705,382.5 C713.33,385.83 721.67,389.38 730,393.75 C738.33,398.12 748.67,404.58 755,408.75 C761.33,412.92 765.83,417.08 768,418.75" fill="none" stroke="#3046a0" stroke-width="1.4" stroke-linecap="round" stroke-linejoin="round" opacity="1"/>
<line x1="0.10" y1="346.25" x2="0.10" y2="371.25" stroke="#469a91" stroke-width="1.1"/>
<rect x="-2.60" y="348.75" width="5.4" height="21.25" fill="#1c6e64" stroke="#469a91" stroke-width="1"/>
<line x1="8.18" y1="336.0" x2="8.18" y2="356.0" stroke="#469a91" stroke-width="1.1"/>
<rect x="5.48" y="341.25" width="5.4" height="8.75" fill="#1c6e64" stroke="#469a91" stroke-width="1"/>
<line x1="16.27" y1="341.0" x2="16.27" y2="365.5" stroke="#bb545b" stroke-width="1.1"/>
<rect x="13.57" y="346.25" width="5.4" height="18.25" fill="#8e3b3e" stroke="#bb545b" stroke-width="1"/>
<line x1="24.35" y1="361.0" x2="24.35" y2="373.0" stroke="#bb545b" stroke-width="1.1"/>
<rect x="21.65" y="364.5" width="5.4" height="7.50" fill="#8e3b3e" stroke="#bb545b" stroke-width="1"/>
<line x1="32.43" y1="369.5" x2="32.43" y2="385.0" stroke="#bb545b" stroke-width="1.1"/>
<rect x="29.73" y="370.75" width="5.4" height="13.75" fill="#8e3b3e" stroke="#bb545b" stroke-width="1"/>
<line x1="40.52" y1="375.0" x2="40.52" y2="387.0" stroke="#469a91" stroke-width="1.1"/>
<rect x="37.81" y="375.75" width="5.4" height="8.75" fill="#1c6e64" stroke="#469a91" stroke-width="1"/>
<line x1="48.60" y1="374.0" x2="48.60" y2="382.5" stroke="#469a91" stroke-width="1.1"/>
<rect x="45.90" y="377.5" width="5.4" height="4.25" fill="#1c6e64" stroke="#469a91" stroke-width="1"/>
<line x1="56.68" y1="375.75" x2="56.68" y2="385.75" stroke="#bb545b" stroke-width="1.1"/>
<rect x="53.98" y="376.75" width="5.4" height="5.75" fill="#8e3b3e" stroke="#bb545b" stroke-width="1"/>
<line x1="64.76" y1="371.75" x2="64.76" y2="390.5" stroke="#469a91" stroke-width="1.1"/>
<rect x="62.06" y="372.5" width="5.4" height="10.00" fill="#1c6e64" stroke="#469a91" stroke-width="1"/>
<line x1="72.85" y1="362.5" x2="72.85" y2="377.5" stroke="#469a91" stroke-width="1.1"/>
<rect x="70.15" y="363.25" width="5.4" height="9.75" fill="#1c6e64" stroke="#469a91" stroke-width="1"/>
<line x1="80.93" y1="360.0" x2="80.93" y2="373.75" stroke="#bb545b" stroke-width="1.1"/>
<rect x="78.23" y="363.25" width="5.4" height="5.50" fill="#8e3b3e" stroke="#bb545b" stroke-width="1"/>
<line x1="89.01" y1="366.0" x2="89.01" y2="377.5" stroke="#bb545b" stroke-width="1.1"/>
<rect x="86.31" y="368.75" width="5.4" height="4.25" fill="#8e3b3e" stroke="#bb545b" stroke-width="1"/>
<line x1="97.10" y1="367.0" x2="97.10" y2="385.75" stroke="#bb545b" stroke-width="1.1"/>
<rect x="94.40" y="372.5" width="5.4" height="8.25" fill="#8e3b3e" stroke="#bb545b" stroke-width="1"/>
<line x1="105.18" y1="378.25" x2="105.18" y2="388.0" stroke="#bb545b" stroke-width="1.1"/>
<rect x="102.48" y="380.0" width="5.4" height="3.75" fill="#8e3b3e" stroke="#bb545b" stroke-width="1"/>
<line x1="113.26" y1="378.75" x2="113.26" y2="403.0" stroke="#bb545b" stroke-width="1.1"/>
<rect x="110.56" y="383.25" width="5.4" height="6.25" fill="#8e3b3e" stroke="#bb545b" stroke-width="1"/>
<line x1="121.34" y1="370.0" x2="121.34" y2="394.5" stroke="#469a91" stroke-width="1.1"/>
<rect x="118.64" y="371.25" width="5.4" height="20.50" fill="#1c6e64" stroke="#469a91" stroke-width="1"/>
<line x1="129.43" y1="354.5" x2="129.43" y2="377.0" stroke="#469a91" stroke-width="1.1"/>
<rect x="126.73" y="365.75" width="5.4" height="6.25" fill="#1c6e64" stroke="#469a91" stroke-width="1"/>
<line x1="137.51" y1="346.25" x2="137.51" y2="367.0" stroke="#469a91" stroke-width="1.1"/>
<rect x="134.81" y="352.0" width="5.4" height="14.25" fill="#1c6e64" stroke="#469a91" stroke-width="1"/>
<line x1="145.59" y1="350.0" x2="145.59" y2="367.0" stroke="#bb545b" stroke-width="1.1"/>
<rect x="142.89" y="352.0" width="5.4" height="13.75" fill="#8e3b3e" stroke="#bb545b" stroke-width="1"/>
<line x1="153.68" y1="349.5" x2="153.68" y2="368.0" stroke="#469a91" stroke-width="1.1"/>
<rect x="150.98" y="352.0" width="5.4" height="13.75" fill="#1c6e64" stroke="#469a91" stroke-width="1"/>
<line x1="161.76" y1="351.25" x2="161.76" y2="382.0" stroke="#bb545b" stroke-width="1.1"/>
<rect x="159.06" y="352.0" width="5.4" height="23.50" fill="#8e3b3e" stroke="#bb545b" stroke-width="1"/>
<line x1="169.84" y1="348.75" x2="169.84" y2="375.75" stroke="#469a91" stroke-width="1.1"/>
<rect x="167.14" y="351.25" width="5.4" height="24.25" fill="#1c6e64" stroke="#469a91" stroke-width="1"/>
<line x1="177.93" y1="329.5" x2="177.93" y2="360.0" stroke="#469a91" stroke-width="1.1"/>
<rect x="175.23" y="335.0" width="5.4" height="16.75" fill="#1c6e64" stroke="#469a91" stroke-width="1"/>
<line x1="186.01" y1="327.0" x2="186.01" y2="351.25" stroke="#bb545b" stroke-width="1.1"/>
<rect x="183.31" y="335.0" width="5.4" height="12.50" fill="#8e3b3e" stroke="#bb545b" stroke-width="1"/>
<line x1="194.09" y1="343.0" x2="194.09" y2="390.0" stroke="#bb545b" stroke-width="1.1"/>
<rect x="191.39" y="347.0" width="5.4" height="25.00" fill="#8e3b3e" stroke="#bb545b" stroke-width="1"/>
<line x1="202.18" y1="370.75" x2="202.18" y2="388.0" stroke="#bb545b" stroke-width="1.1"/>
<rect x="199.48" y="371.25" width="5.4" height="16.25" fill="#8e3b3e" stroke="#bb545b" stroke-width="1"/>
<line x1="210.26" y1="380.5" x2="210.26" y2="403.0" stroke="#bb545b" stroke-width="1.1"/>
<rect x="207.56" y="386.75" width="5.4" height="3.75" fill="#8e3b3e" stroke="#bb545b" stroke-width="1"/>
<line x1="218.34" y1="378.75" x2="218.34" y2="391.25" stroke="#469a91" stroke-width="1.1"/>
<rect x="215.64" y="381.25" width="5.4" height="9.25" fill="#1c6e64" stroke="#469a91" stroke-width="1"/>
<line x1="226.42" y1="379.5" x2="226.42" y2="391.25" stroke="#bb545b" stroke-width="1.1"/>
<rect x="223.72" y="381.25" width="5.4" height="3.75" fill="#8e3b3e" stroke="#bb545b" stroke-width="1"/>
<line x1="234.51" y1="380.0" x2="234.51" y2="388.75" stroke="#469a91" stroke-width="1.1"/>
<rect x="231.81" y="383.25" width="5.4" height="1.20" fill="#1c6e64" stroke="#469a91" stroke-width="1"/>
<line x1="242.59" y1="378.75" x2="242.59" y2="387.5" stroke="#469a91" stroke-width="1.1"/>
<rect x="239.89" y="382.5" width="5.4" height="1.25" fill="#1c6e64" stroke="#469a91" stroke-width="1"/>
<line x1="250.67" y1="380.75" x2="250.67" y2="389.25" stroke="#bb545b" stroke-width="1.1"/>
<rect x="247.97" y="383.25" width="5.4" height="4.75" fill="#8e3b3e" stroke="#bb545b" stroke-width="1"/>
<line x1="258.76" y1="383.25" x2="258.76" y2="391.25" stroke="#469a91" stroke-width="1.1"/>
<rect x="256.06" y="384.5" width="5.4" height="3.50" fill="#1c6e64" stroke="#469a91" stroke-width="1"/>
<line x1="266.84" y1="383.25" x2="266.84" y2="394.5" stroke="#bb545b" stroke-width="1.1"/>
<rect x="264.14" y="384.5" width="5.4" height="5.00" fill="#8e3b3e" stroke="#bb545b" stroke-width="1"/>
<line x1="274.92" y1="381.25" x2="274.92" y2="393.25" stroke="#469a91" stroke-width="1.1"/>
<rect x="272.22" y="385.75" width="5.4" height="3.75" fill="#1c6e64" stroke="#469a91" stroke-width="1"/>
<line x1="283.01" y1="383.75" x2="283.01" y2="393.0" stroke="#bb545b" stroke-width="1.1"/>
<rect x="280.31" y="385.75" width="5.4" height="6.25" fill="#8e3b3e" stroke="#bb545b" stroke-width="1"/>
<line x1="291.09" y1="389.5" x2="291.09" y2="398.0" stroke="#bb545b" stroke-width="1.1"/>
<rect x="288.39" y="391.25" width="5.4" height="4.50" fill="#8e3b3e" stroke="#bb545b" stroke-width="1"/>
<line x1="299.17" y1="392.0" x2="299.17" y2="408.75" stroke="#bb545b" stroke-width="1.1"/>
<rect x="296.47" y="395.0" width="5.4" height="10.00" fill="#8e3b3e" stroke="#bb545b" stroke-width="1"/>
<line x1="307.25" y1="401.25" x2="307.25" y2="415.0" stroke="#bb545b" stroke-width="1.1"/>
<rect x="304.55" y="403.75" width="5.4" height="3.25" fill="#8e3b3e" stroke="#bb545b" stroke-width="1"/>
<line x1="315.34" y1="388.75" x2="315.34" y2="418.75" stroke="#469a91" stroke-width="1.1"/>
<rect x="312.64" y="391.25" width="5.4" height="16.25" fill="#1c6e64" stroke="#469a91" stroke-width="1"/>
<line x1="323.42" y1="375.75" x2="323.42" y2="395.0" stroke="#469a91" stroke-width="1.1"/>
<rect x="320.72" y="381.75" width="5.4" height="10.25" fill="#1c6e64" stroke="#469a91" stroke-width="1"/>
<line x1="331.50" y1="374.5" x2="331.50" y2="383.75" stroke="#bb545b" stroke-width="1.1"/>
<rect x="328.80" y="382.0" width="5.4" height="1.20" fill="#8e3b3e" stroke="#bb545b" stroke-width="1"/>
<line x1="339.59" y1="377.5" x2="339.59" y2="391.25" stroke="#bb545b" stroke-width="1.1"/>
<rect x="336.89" y="382.0" width="5.4" height="6.00" fill="#8e3b3e" stroke="#bb545b" stroke-width="1"/>
<line x1="347.67" y1="386.75" x2="347.67" y2="407.0" stroke="#bb545b" stroke-width="1.1"/>
<rect x="344.97" y="387.5" width="5.4" height="18.00" fill="#8e3b3e" stroke="#bb545b" stroke-width="1"/>
<line x1="355.75" y1="398.75" x2="355.75" y2="409.5" stroke="#469a91" stroke-width="1.1"/>
<rect x="353.05" y="400.0" width="5.4" height="5.50" fill="#1c6e64" stroke="#469a91" stroke-width="1"/>
<line x1="363.84" y1="355.0" x2="363.84" y2="402.5" stroke="#469a91" stroke-width="1.1"/>
<rect x="361.14" y="370.0" width="5.4" height="30.75" fill="#1c6e64" stroke="#469a91" stroke-width="1"/>
<line x1="371.92" y1="362.5" x2="371.92" y2="389.5" stroke="#bb545b" stroke-width="1.1"/>
<rect x="369.22" y="370.75" width="5.4" height="9.25" fill="#8e3b3e" stroke="#bb545b" stroke-width="1"/>
<line x1="380.00" y1="354.5" x2="380.00" y2="396.25" stroke="#bb545b" stroke-width="1.1"/>
<rect x="377.30" y="378.25" width="5.4" height="16.00" fill="#8e3b3e" stroke="#bb545b" stroke-width="1"/>
<line x1="388.08" y1="358.75" x2="388.08" y2="400.75" stroke="#469a91" stroke-width="1.1"/>
<rect x="385.38" y="360.0" width="5.4" height="34.25" fill="#1c6e64" stroke="#469a91" stroke-width="1"/>
<line x1="396.17" y1="341.25" x2="396.17" y2="364.5" stroke="#469a91" stroke-width="1.1"/>
<rect x="393.47" y="353.25" width="5.4" height="7.25" fill="#1c6e64" stroke="#469a91" stroke-width="1"/>
<line x1="404.25" y1="346.25" x2="404.25" y2="355.5" stroke="#469a91" stroke-width="1.1"/>
<rect x="401.55" y="348.75" width="5.4" height="5.00" fill="#1c6e64" stroke="#469a91" stroke-width="1"/>
<line x1="412.33" y1="345.0" x2="412.33" y2="360.0" stroke="#bb545b" stroke-width="1.1"/>
<rect x="409.63" y="349.25" width="5.4" height="10.25" fill="#8e3b3e" stroke="#bb545b" stroke-width="1"/>
<line x1="420.42" y1="343.75" x2="420.42" y2="361.25" stroke="#469a91" stroke-width="1.1"/>
<rect x="417.72" y="344.25" width="5.4" height="15.25" fill="#1c6e64" stroke="#469a91" stroke-width="1"/>
<line x1="428.50" y1="342.0" x2="428.50" y2="353.75" stroke="#bb545b" stroke-width="1.1"/>
<rect x="425.80" y="344.25" width="5.4" height="1.50" fill="#8e3b3e" stroke="#bb545b" stroke-width="1"/>
<line x1="436.58" y1="352.0" x2="436.58" y2="359.5" stroke="#bb545b" stroke-width="1.1"/>
<rect x="433.88" y="355.0" width="5.4" height="1.20" fill="#8e3b3e" stroke="#bb545b" stroke-width="1"/>
<line x1="444.67" y1="352.0" x2="444.67" y2="360.0" stroke="#469a91" stroke-width="1.1"/>
<rect x="441.97" y="354.5" width="5.4" height="1.25" fill="#1c6e64" stroke="#469a91" stroke-width="1"/>
<line x1="452.75" y1="353.0" x2="452.75" y2="362.5" stroke="#bb545b" stroke-width="1.1"/>
<rect x="450.05" y="354.5" width="5.4" height="7.50" fill="#8e3b3e" stroke="#bb545b" stroke-width="1"/>
<line x1="460.83" y1="358.0" x2="460.83" y2="366.25" stroke="#469a91" stroke-width="1.1"/>
<rect x="458.13" y="358.75" width="5.4" height="3.25" fill="#1c6e64" stroke="#469a91" stroke-width="1"/>
<line x1="468.91" y1="356.25" x2="468.91" y2="363.75" stroke="#bb545b" stroke-width="1.1"/>
<rect x="466.21" y="358.75" width="5.4" height="3.25" fill="#8e3b3e" stroke="#bb545b" stroke-width="1"/>
<line x1="477.00" y1="356.25" x2="477.00" y2="364.5" stroke="#bb545b" stroke-width="1.1"/>
<rect x="474.30" y="360.0" width="5.4" height="1.25" fill="#8e3b3e" stroke="#bb545b" stroke-width="1"/>
<line x1="485.08" y1="358.0" x2="485.08" y2="366.75" stroke="#bb545b" stroke-width="1.1"/>
<rect x="482.38" y="360.0" width="5.4" height="3.75" fill="#8e3b3e" stroke="#bb545b" stroke-width="1"/>
<line x1="493.16" y1="361.25" x2="493.16" y2="367.5" stroke="#bb545b" stroke-width="1.1"/>
<rect x="490.46" y="362.5" width="5.4" height="1.25" fill="#8e3b3e" stroke="#bb545b" stroke-width="1"/>
<line x1="501.25" y1="353.0" x2="501.25" y2="365.5" stroke="#469a91" stroke-width="1.1"/>
<rect x="498.55" y="359.25" width="5.4" height="5.25" fill="#1c6e64" stroke="#469a91" stroke-width="1"/>
<line x1="509.33" y1="349.5" x2="509.33" y2="367.5" stroke="#469a91" stroke-width="1.1"/>
<rect x="506.63" y="358.25" width="5.4" height="1.25" fill="#1c6e64" stroke="#469a91" stroke-width="1"/>
<line x1="517.41" y1="340.0" x2="517.41" y2="362.0" stroke="#469a91" stroke-width="1.1"/>
<rect x="514.71" y="349.25" width="5.4" height="10.00" fill="#1c6e64" stroke="#469a91" stroke-width="1"/>
<line x1="525.50" y1="337.0" x2="525.50" y2="361.25" stroke="#bb545b" stroke-width="1.1"/>
<rect x="522.79" y="349.25" width="5.4" height="9.00" fill="#8e3b3e" stroke="#bb545b" stroke-width="1"/>
<line x1="533.58" y1="348.75" x2="533.58" y2="361.75" stroke="#469a91" stroke-width="1.1"/>
<rect x="530.88" y="350.5" width="5.4" height="7.50" fill="#1c6e64" stroke="#469a91" stroke-width="1"/>
<line x1="541.66" y1="349.5" x2="541.66" y2="360.0" stroke="#bb545b" stroke-width="1.1"/>
<rect x="538.96" y="350.5" width="5.4" height="8.75" fill="#8e3b3e" stroke="#bb545b" stroke-width="1"/>
<line x1="549.74" y1="349.5" x2="549.74" y2="363.75" stroke="#bb545b" stroke-width="1.1"/>
<rect x="547.04" y="358.0" width="5.4" height="2.75" fill="#8e3b3e" stroke="#bb545b" stroke-width="1"/>
<line x1="557.83" y1="354.5" x2="557.83" y2="375.75" stroke="#bb545b" stroke-width="1.1"/>
<rect x="555.13" y="360.0" width="5.4" height="12.00" fill="#8e3b3e" stroke="#bb545b" stroke-width="1"/>
<line x1="565.91" y1="362.5" x2="565.91" y2="373.75" stroke="#469a91" stroke-width="1.1"/>
<rect x="563.21" y="366.75" width="5.4" height="5.00" fill="#1c6e64" stroke="#469a91" stroke-width="1"/>
<line x1="573.99" y1="364.5" x2="573.99" y2="376.25" stroke="#bb545b" stroke-width="1.1"/>
<rect x="571.29" y="366.75" width="5.4" height="5.75" fill="#8e3b3e" stroke="#bb545b" stroke-width="1"/>
<line x1="582.08" y1="367.5" x2="582.08" y2="378.75" stroke="#bb545b" stroke-width="1.1"/>
<rect x="579.38" y="371.25" width="5.4" height="5.00" fill="#8e3b3e" stroke="#bb545b" stroke-width="1"/>
<line x1="590.16" y1="375.0" x2="590.16" y2="380.5" stroke="#bb545b" stroke-width="1.1"/>
<rect x="587.46" y="376.25" width="5.4" height="3.25" fill="#8e3b3e" stroke="#bb545b" stroke-width="1"/>
<line x1="598.24" y1="373.5" x2="598.24" y2="378.0" stroke="#469a91" stroke-width="1.1"/>
<rect x="595.54" y="374.5" width="5.4" height="1.75" fill="#1c6e64" stroke="#469a91" stroke-width="1"/>
<line x1="606.33" y1="370.0" x2="606.33" y2="376.0" stroke="#469a91" stroke-width="1.1"/>
<rect x="603.62" y="371.25" width="5.4" height="3.25" fill="#1c6e64" stroke="#469a91" stroke-width="1"/>
<line x1="614.41" y1="369.5" x2="614.41" y2="375.5" stroke="#bb545b" stroke-width="1.1"/>
<rect x="611.71" y="370.75" width="5.4" height="3.50" fill="#8e3b3e" stroke="#bb545b" stroke-width="1"/>
<line x1="622.49" y1="373.25" x2="622.49" y2="380.0" stroke="#469a91" stroke-width="1.1"/>
<rect x="619.79" y="373.75" width="5.4" height="1.20" fill="#1c6e64" stroke="#469a91" stroke-width="1"/>
<line x1="630.57" y1="367.5" x2="630.57" y2="376.25" stroke="#bb545b" stroke-width="1.1"/>
<rect x="627.87" y="369.5" width="5.4" height="4.25" fill="#8e3b3e" stroke="#bb545b" stroke-width="1"/>
<line x1="638.66" y1="372.0" x2="638.66" y2="379.5" stroke="#bb545b" stroke-width="1.1"/>
<rect x="635.96" y="373.25" width="5.4" height="4.25" fill="#8e3b3e" stroke="#bb545b" stroke-width="1"/>
<line x1="646.74" y1="375.0" x2="646.74" y2="385.0" stroke="#bb545b" stroke-width="1.1"/>
<rect x="644.04" y="377.0" width="5.4" height="6.25" fill="#8e3b3e" stroke="#bb545b" stroke-width="1"/>
<line x1="654.82" y1="383.75" x2="654.82" y2="391.25" stroke="#bb545b" stroke-width="1.1"/>
<rect x="652.12" y="385.0" width="5.4" height="5.00" fill="#8e3b3e" stroke="#bb545b" stroke-width="1"/>
<line x1="662.91" y1="385.75" x2="662.91" y2="395.0" stroke="#bb545b" stroke-width="1.1"/>
<rect x="660.21" y="389.5" width="5.4" height="4.25" fill="#8e3b3e" stroke="#bb545b" stroke-width="1"/>
<line x1="670.99" y1="392.5" x2="670.99" y2="400.0" stroke="#bb545b" stroke-width="1.1"/>
<rect x="668.29" y="393.75" width="5.4" height="1.25" fill="#8e3b3e" stroke="#bb545b" stroke-width="1"/>
<line x1="679.07" y1="392.5" x2="679.07" y2="398.75" stroke="#bb545b" stroke-width="1.1"/>
<rect x="676.37" y="394.5" width="5.4" height="1.20" fill="#8e3b3e" stroke="#bb545b" stroke-width="1"/>
<line x1="687.16" y1="393.75" x2="687.16" y2="405.0" stroke="#bb545b" stroke-width="1.1"/>
<rect x="684.46" y="395.75" width="5.4" height="4.75" fill="#8e3b3e" stroke="#bb545b" stroke-width="1"/>
<line x1="695.24" y1="394.5" x2="695.24" y2="406.25" stroke="#469a91" stroke-width="1.1"/>
<rect x="692.54" y="395.0" width="5.4" height="5.75" fill="#1c6e64" stroke="#469a91" stroke-width="1"/>
<line x1="703.32" y1="394.5" x2="703.32" y2="463.0" stroke="#bb545b" stroke-width="1.1"/>
<rect x="700.62" y="396.0" width="5.4" height="56.00" fill="#8e3b3e" stroke="#bb545b" stroke-width="1"/>
<line x1="711.40" y1="420.0" x2="711.40" y2="452.5" stroke="#469a91" stroke-width="1.1"/>
<rect x="708.70" y="425.5" width="5.4" height="26.50" fill="#1c6e64" stroke="#469a91" stroke-width="1"/>
<line x1="719.49" y1="411.25" x2="719.49" y2="427.0" stroke="#469a91" stroke-width="1.1"/>
<rect x="716.79" y="418.25" width="5.4" height="7.25" fill="#1c6e64" stroke="#469a91" stroke-width="1"/>
<line x1="727.57" y1="401.25" x2="727.57" y2="421.25" stroke="#469a91" stroke-width="1.1"/>
<rect x="724.87" y="413.75" width="5.4" height="5.00" fill="#1c6e64" stroke="#469a91" stroke-width="1"/>
<line x1="735.65" y1="411.25" x2="735.65" y2="454.5" stroke="#bb545b" stroke-width="1.1"/>
<rect x="732.95" y="414.25" width="5.4" height="35.25" fill="#8e3b3e" stroke="#bb545b" stroke-width="1"/>
<line x1="743.74" y1="447.0" x2="743.74" y2="469.0" stroke="#bb545b" stroke-width="1.1"/>
<rect x="741.04" y="448.0" width="5.4" height="20.25" fill="#8e3b3e" stroke="#bb545b" stroke-width="1"/>
<line x1="751.82" y1="466.5" x2="751.82" y2="495.5" stroke="#bb545b" stroke-width="1.1"/>
<rect x="749.12" y="467.5" width="5.4" height="27.25" fill="#8e3b3e" stroke="#bb545b" stroke-width="1"/>
<line x1="759.90" y1="493.0" x2="759.90" y2="501.5" stroke="#bb545b" stroke-width="1.1"/>
<rect x="757.20" y="494.0" width="5.4" height="6.75" fill="#8e3b3e" stroke="#bb545b" stroke-width="1"/>
<line x1="767.99" y1="493.0" x2="767.99" y2="527.5" stroke="#bb545b" stroke-width="1.1"/>
<rect x="765.28" y="499.25" width="5.4" height="14.50" fill="#8e3b3e" stroke="#bb545b" stroke-width="1"/>
<path d="M585.6,378.3 C586.90,378.03 590.02,377.62 593.4,376.7 C596.78,375.78 602.25,373.83 605.9,372.8 C609.55,371.77 612.43,371.53 615.3,370.5 C618.17,369.47 621.02,367.13 623.1,366.6 C625.18,366.07 626.23,366.13 627.8,367.3 C629.37,368.47 630.67,371.65 632.5,373.6 C634.33,375.55 636.40,377.18 638.75,379 C641.10,380.82 643.99,382.53 646.6,384.5 C649.21,386.47 652.07,388.84 654.4,390.8 C656.73,392.76 658.92,394.88 660.6,396.25 C662.28,397.62 662.67,399.26 664.5,399 C666.33,398.74 669.12,395.47 671.6,394.7 C674.08,393.93 676.80,394.72 679.4,394.4 C682.00,394.08 684.87,393.53 687.2,392.8 C689.53,392.07 692.10,390.73 693.4,390 C694.70,389.27 694.52,387.36 695,388.4 C695.48,389.44 695.73,393.38 696.25,396.25 C696.77,399.12 697.39,401.64 698.1,405.6 C698.81,409.56 699.60,413.77 700.5,420 C701.40,426.23 702.54,436.54 703.5,443 C704.46,449.46 704.75,458.42 706.25,458.75 C707.75,459.08 710.00,450.21 712.5,445 C715.00,439.79 718.75,432.71 721.25,427.5 C723.75,422.29 725.83,417.92 727.5,413.75 C729.17,409.58 729.79,401.88 731.25,402.5 C732.71,403.12 734.38,411.67 736.25,417.5 C738.12,423.33 740.42,430.83 742.5,437.5 C744.58,444.17 746.67,450.83 748.75,457.5 C750.83,464.17 752.96,471.08 755,477.5 C757.04,483.92 759.62,491.50 761,496 C762.38,500.50 762.92,503.08 763.3,504.5" fill="none" stroke="#f2b733" stroke-width="3.3" stroke-linecap="round" stroke-linejoin="round" opacity="0.86"/>
<text x="695.5" y="324.2" font-size="15" fill="#2ba7c3" font-weight="500" text-anchor="start" textLength="97.5" lengthAdjust="spacingAndGlyphs">4時間売り抑え</text>
</g>
<rect x="0" y="305" width="622.5" height="23" fill="#181c27" opacity="0.82"/>
<g><circle cx="17.5" cy="313.09999999999997" r="4.6" fill="#f1d9dc"/><path d="M13.0,313.09999999999997 a4.5,4.5 0 0 1 4.5,-4.5 v4.5z" fill="#5a78c8"/><rect x="17.5" y="311.29999999999995" width="4.2" height="1.2" fill="#d8606a"/><rect x="13.5" y="314.29999999999995" width="8.2" height="1.2" fill="#d8606a"/></g>
<g><circle cx="11.3" cy="318.9" r="5.3" fill="#181c27"/><circle cx="11.3" cy="318.9" r="4.7" fill="#e9b9c2"/><path d="M6.6000000000000005,318.9 h9.4 M11.3,314.2 v9.4" stroke="#d25a68" stroke-width="1.6"/><path d="M8.3,315.9 l6,6 M14.3,315.9 l-6,6" stroke="#f4e6ea" stroke-width="1"/><circle cx="9.0" cy="316.59999999999997" r="0.9" fill="#5a6fc0"/><circle cx="13.600000000000001" cy="321.2" r="0.9" fill="#5a6fc0"/><circle cx="13.600000000000001" cy="316.59999999999997" r="0.9" fill="#5a6fc0"/><circle cx="9.0" cy="321.2" r="0.9" fill="#5a6fc0"/></g>
<text x="25.8" y="321.6" font-size="13" fill="#c3c6ce" font-weight="500" text-anchor="start" textLength="92.5" lengthAdjust="spacingAndGlyphs" stroke="#c3c6ce" stroke-width="0.2">ポンド／米ドル</text>
<text x="123.4" y="321.6" font-size="15" fill="#c3c6ce" font-weight="bold" text-anchor="middle">·</text>
<text x="128.6" y="321.6" font-size="13" fill="#c3c6ce" font-weight="500" text-anchor="start" textLength="34.7" lengthAdjust="spacingAndGlyphs" stroke="#c3c6ce" stroke-width="0.2">1時間</text>
<text x="168.1" y="321.6" font-size="15" fill="#c3c6ce" font-weight="bold" text-anchor="middle">·</text>
<text x="172.8" y="321.6" font-size="13" fill="#c3c6ce" font-weight="500" text-anchor="start" textLength="41.2" lengthAdjust="spacingAndGlyphs" stroke="#c3c6ce" stroke-width="0.3">OANDA</text>
<path d="M223.6,311.6 h10.8 l-3.4,5.4 l3.4,5.4 h-10.8z" fill="#24d0ee"/>
<circle cx="251.6" cy="317" r="7" fill="#12352f"/><circle cx="251.6" cy="317" r="3.6" fill="#22a48a"/>
<text x="266.2" y="321" font-size="11" fill="#c3c6ce" font-weight="500" text-anchor="start" textLength="21.5" lengthAdjust="spacingAndGlyphs">始値</text>
<text x="289.2" y="320.8" font-size="10.8" fill="#cf535b" font-weight="normal" text-anchor="start" textLength="37.3" lengthAdjust="spacingAndGlyphs" stroke="#cf535b" stroke-width="0.25">1.35206</text>
<text x="332.6" y="321" font-size="11" fill="#c3c6ce" font-weight="500" text-anchor="start" textLength="21" lengthAdjust="spacingAndGlyphs">高値</text>
<text x="355" y="320.8" font-size="10.8" fill="#cf535b" font-weight="normal" text-anchor="start" textLength="37.3" lengthAdjust="spacingAndGlyphs" stroke="#cf535b" stroke-width="0.25">1.35255</text>
<text x="398.4" y="321" font-size="11" fill="#c3c6ce" font-weight="500" text-anchor="start" textLength="21.6" lengthAdjust="spacingAndGlyphs">安値</text>
<text x="421" y="320.8" font-size="10.8" fill="#cf535b" font-weight="normal" text-anchor="start" textLength="37.3" lengthAdjust="spacingAndGlyphs" stroke="#cf535b" stroke-width="0.25">1.34963</text>
<text x="463.6" y="321" font-size="11" fill="#c3c6ce" font-weight="500" text-anchor="start" textLength="21.6" lengthAdjust="spacingAndGlyphs">終値</text>
<text x="486" y="320.8" font-size="10.8" fill="#cf535b" font-weight="normal" text-anchor="start" textLength="37.3" lengthAdjust="spacingAndGlyphs" stroke="#cf535b" stroke-width="0.25">1.35088</text>
<text x="529.2" y="320.8" font-size="10.8" fill="#cf535b" font-weight="normal" text-anchor="start" textLength="88.6" lengthAdjust="spacingAndGlyphs" stroke="#cf535b" stroke-width="0.25">−0.00119 (−0.09%)</text>
<rect x="6.5" y="329.6" width="26" height="16.5" rx="3" fill="#181c27" fill-opacity="0.72" stroke="#30343f" stroke-width="1"/>
<path d="M10.6,336.20000000000005 l2.9,2.9 l2.9,-2.9" fill="none" stroke="#d6d8de" stroke-width="1.4"/>
<text x="21.3" y="341.8" font-size="11" fill="#e1e3e8" font-weight="bold" text-anchor="start">2</text>
<line x1="0.5" y1="302" x2="0.5" y2="568" stroke="#2e323d" stroke-width="1"/>
<rect x="974" y="301.7" width="50" height="266.3" fill="#181c27"/>
<line x1="974" y1="301.7" x2="974" y2="568" stroke="#2b303b" stroke-width="1"/>
<rect x="976.3" y="306.2" width="44.2" height="19.7" rx="3" fill="#0e0e10" stroke="#3a3e49" stroke-width="1"/>
<text x="979.6999999999999" y="319.85" font-size="10.5" fill="#d9dbe0" font-weight="bold" text-anchor="start" textLength="17" lengthAdjust="spacingAndGlyphs">USD</text>
<path d="M1012.6,315.45 l2.1,2.1 l2.1,-2.1" fill="none" stroke="#d9dbe0" stroke-width="1.4"/>
<text x="981.2" y="355.1" font-size="10.5" fill="#cdd0d7" font-weight="normal" text-anchor="start" textLength="34.8" lengthAdjust="spacingAndGlyphs" stroke="#cdd0d7" stroke-width="0.45">1.36500</text>
<text x="981.2" y="469.7" font-size="10.5" fill="#cdd0d7" font-weight="normal" text-anchor="start" textLength="34.8" lengthAdjust="spacingAndGlyphs" stroke="#cdd0d7" stroke-width="0.45">1.35500</text>
<rect x="974.4" y="335.8" width="46.2" height="13.6" fill="#ff9c12" rx="1"/>
<text x="981.2" y="346.20000000000005" font-size="10" fill="#3b2a0a" font-weight="normal" text-anchor="start" textLength="34.5" lengthAdjust="spacingAndGlyphs" stroke="#3b2a0a" stroke-width="0.3">1.36578</text>
<rect x="974.4" y="370.3" width="46.2" height="13.6" fill="#ff9c12" rx="1"/>
<text x="981.2" y="380.70000000000005" font-size="10" fill="#3b2a0a" font-weight="normal" text-anchor="start" textLength="34.5" lengthAdjust="spacingAndGlyphs" stroke="#3b2a0a" stroke-width="0.3">1.36238</text>
<rect x="974.4" y="384.5" width="46.2" height="27" fill="#4caf50" rx="1"/>
<text x="981.2" y="394.85" font-size="10" fill="#ffffff" font-weight="normal" text-anchor="start" textLength="34.5" lengthAdjust="spacingAndGlyphs" stroke="#ffffff" stroke-width="0.3">1.36070</text>
<text x="981.2" y="408.35" font-size="10" fill="#ffffff" font-weight="normal" text-anchor="start" textLength="34.5" lengthAdjust="spacingAndGlyphs" stroke="#ffffff" stroke-width="0.3">1.36036</text>
<rect x="974.4" y="415.2" width="46.2" height="13.6" fill="#22b6d6" rx="1"/>
<text x="981.2" y="425.6" font-size="10" fill="#0b4653" font-weight="normal" text-anchor="start" textLength="34.5" lengthAdjust="spacingAndGlyphs" stroke="#0b4653" stroke-width="0.3">1.35887</text>
<rect x="974.4" y="485.2" width="46.2" height="13.8" fill="#22b6d6" rx="1"/>
<text x="981.2" y="495.7" font-size="10" fill="#0b4653" font-weight="normal" text-anchor="start" textLength="34.5" lengthAdjust="spacingAndGlyphs" stroke="#0b4653" stroke-width="0.3">1.35276</text>
<rect x="974.4" y="506.5" width="46.2" height="24.8" fill="#ec5552" rx="1"/>
<text x="981.2" y="517" font-size="10.5" fill="#ffffff" font-weight="normal" text-anchor="start" textLength="34.8" lengthAdjust="spacingAndGlyphs" stroke="#ffffff" stroke-width="0.3">1.35088</text>
<text x="981.2" y="529" font-size="10.5" fill="#fbe3e3" font-weight="normal" text-anchor="start" textLength="22.5" lengthAdjust="spacingAndGlyphs" stroke="#fbe3e3" stroke-width="0.3">11:40</text>
<circle cx="897.4" cy="537" r="9" fill="#181c27" stroke="#b23545" stroke-width="1.3"/>
<circle cx="897.4" cy="537" r="6.6" fill="#3d4d9c"/><path d="M892.8,532.4 l9.2,9.2 M902.0,532.4 l-9.2,9.2" stroke="#f0e8ec" stroke-width="2"/><path d="M890.8,537 h13.2 M897.4,530.4 v13.2" stroke="#f0e8ec" stroke-width="3.6"/><path d="M890.8,537 h13.2 M897.4,530.4 v13.2" stroke="#d64a55" stroke-width="1.8"/>
<rect x="932.3" y="507.6" width="32.4" height="31.6" fill="#ffffff"/>
<line x1="932.3" y1="513.5" x2="964.7" y2="513.5" stroke="#d9b9bd" stroke-width="1" stroke-dasharray="1 1.5"/>
<text x="949.4" y="530.2" font-size="17" fill="#33363f" font-weight="normal" text-anchor="middle">12</text>
<circle cx="945.6" cy="537" r="9" fill="#181c27" stroke="#b23545" stroke-width="1.3"/>
<clipPath id="usc"><circle cx="945.6" cy="537" r="6.6"/></clipPath><g clip-path="url(#usc)"><rect x="938.6" y="530" width="14" height="14" fill="#f1e9ec"/><rect x="938.6" y="530" width="7.6" height="7.4" fill="#5a9ce0"/><path d="M946.2,532.4 h7 M946.2,535.4 h7" stroke="#d8606a" stroke-width="1.4"/><rect x="938.6" y="540" width="14" height="4" fill="#d8523e"/></g>
<rect x="0" y="548.2" width="1024" height="19.8" fill="#181c27"/>
<line x1="0" y1="548.2" x2="1024" y2="548.2" stroke="#262b36" stroke-width="1"/>
<text x="40" y="563.1" font-size="10.5" fill="#bcbfc8" font-weight="normal" text-anchor="middle" textLength="23.2" lengthAdjust="spacingAndGlyphs" stroke="#bcbfc8" stroke-width="0.55">06:00</text>
<text x="88.75" y="563.1" font-size="10.5" fill="#bcbfc8" font-weight="normal" text-anchor="middle" textLength="23.2" lengthAdjust="spacingAndGlyphs" stroke="#bcbfc8" stroke-width="0.55">12:00</text>
<text x="137.5" y="563.1" font-size="10.5" fill="#bcbfc8" font-weight="normal" text-anchor="middle" textLength="23.2" lengthAdjust="spacingAndGlyphs" stroke="#bcbfc8" stroke-width="0.55">18:00</text>
<text x="185.5" y="563.1" font-size="10.5" fill="#bcbfc8" font-weight="normal" text-anchor="middle" textLength="9.6" lengthAdjust="spacingAndGlyphs" stroke="#bcbfc8" stroke-width="0.55">13</text>
<text x="233.75" y="563.1" font-size="10.5" fill="#bcbfc8" font-weight="normal" text-anchor="middle" textLength="23.2" lengthAdjust="spacingAndGlyphs" stroke="#bcbfc8" stroke-width="0.55">06:00</text>
<text x="282.3" y="563.1" font-size="10.5" fill="#bcbfc8" font-weight="normal" text-anchor="middle" textLength="23.2" lengthAdjust="spacingAndGlyphs" stroke="#bcbfc8" stroke-width="0.55">12:00</text>
<text x="331" y="563.1" font-size="10.5" fill="#bcbfc8" font-weight="normal" text-anchor="middle" textLength="23.2" lengthAdjust="spacingAndGlyphs" stroke="#bcbfc8" stroke-width="0.55">18:00</text>
<text x="379.3" y="563.1" font-size="10.5" fill="#bcbfc8" font-weight="normal" text-anchor="middle" textLength="9.6" lengthAdjust="spacingAndGlyphs" stroke="#bcbfc8" stroke-width="0.55">14</text>
<text x="436" y="563.1" font-size="10.5" fill="#bcbfc8" font-weight="normal" text-anchor="middle" textLength="9.6" lengthAdjust="spacingAndGlyphs" stroke="#bcbfc8" stroke-width="0.55">16</text>
<text x="525" y="563.1" font-size="10.5" fill="#bcbfc8" font-weight="normal" text-anchor="middle" textLength="23.2" lengthAdjust="spacingAndGlyphs" stroke="#bcbfc8" stroke-width="0.55">18:00</text>
<text x="574" y="563.1" font-size="10.5" fill="#bcbfc8" font-weight="normal" text-anchor="middle" textLength="9.6" lengthAdjust="spacingAndGlyphs" stroke="#bcbfc8" stroke-width="0.55">17</text>
<text x="622.5" y="563.1" font-size="10.5" fill="#bcbfc8" font-weight="normal" text-anchor="middle" textLength="23.2" lengthAdjust="spacingAndGlyphs" stroke="#bcbfc8" stroke-width="0.55">06:00</text>
<text x="671" y="563.1" font-size="10.5" fill="#bcbfc8" font-weight="normal" text-anchor="middle" textLength="23.2" lengthAdjust="spacingAndGlyphs" stroke="#bcbfc8" stroke-width="0.55">12:00</text>
<text x="720" y="563.1" font-size="10.5" fill="#bcbfc8" font-weight="normal" text-anchor="middle" textLength="23.2" lengthAdjust="spacingAndGlyphs" stroke="#bcbfc8" stroke-width="0.55">18:00</text>
<text x="768" y="563.1" font-size="10.5" fill="#bcbfc8" font-weight="normal" text-anchor="middle" textLength="9.6" lengthAdjust="spacingAndGlyphs" stroke="#bcbfc8" stroke-width="0.55">18</text>
<text x="816.25" y="563.1" font-size="10.5" fill="#bcbfc8" font-weight="normal" text-anchor="middle" textLength="23.2" lengthAdjust="spacingAndGlyphs" stroke="#bcbfc8" stroke-width="0.55">06:00</text>
<text x="865" y="563.1" font-size="10.5" fill="#bcbfc8" font-weight="normal" text-anchor="middle" textLength="23.2" lengthAdjust="spacingAndGlyphs" stroke="#bcbfc8" stroke-width="0.55">12:00</text>
<text x="913.2" y="563.1" font-size="10.5" fill="#bcbfc8" font-weight="normal" text-anchor="middle" textLength="23.2" lengthAdjust="spacingAndGlyphs" stroke="#bcbfc8" stroke-width="0.55">18:00</text>
<text x="962" y="563.1" font-size="10.5" fill="#bcbfc8" font-weight="normal" text-anchor="middle" textLength="9.6" lengthAdjust="spacingAndGlyphs" stroke="#bcbfc8" stroke-width="0.55">19</text>
<path d="M999.2,552.9 l5.6,3.25 v6.5 l-5.6,3.25 l-5.6,-3.25 v-6.5z" fill="none" stroke="#c5c8d0" stroke-width="1.25" transform="rotate(90 999.2 559.4)"/><circle cx="999.2" cy="559.4" r="1.7" fill="none" stroke="#c5c8d0" stroke-width="1.2"/>
<g transform="translate(9.5,523.8) scale(0.69,0.69)" fill="#f0f1f3" stroke="#0f1118" stroke-width="2.6" paint-order="stroke" stroke-linejoin="round"><path d="M14 18H7V7H0V0h14z"/><circle cx="20" cy="4" r="4"/><path d="M28 18h-8L27.5 0h8z"/></g>
</svg></body></html>
